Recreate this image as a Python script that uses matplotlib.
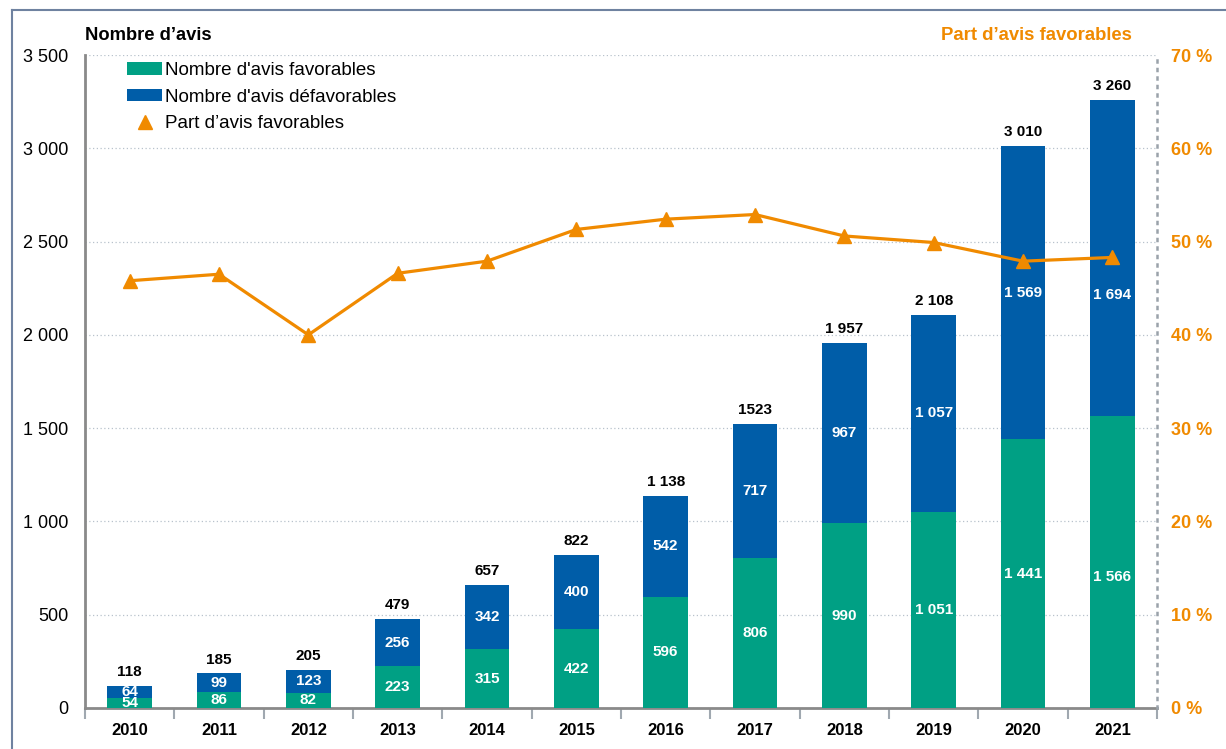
import matplotlib
matplotlib.use("Agg")
import matplotlib.pyplot as plt
from matplotlib.patches import Patch
from matplotlib.lines import Line2D
import numpy as np

plt.rcParams['font.family'] = ['Liberation Sans', 'DejaVu Sans']

years = ["2010", "2011", "2012", "2013", "2014", "2015", "2016", "2017", "2018", "2019", "2020", "2021"]
favorables = [54, 86, 82, 223, 315, 422, 596, 806, 990, 1051, 1441, 1566]
defavorables = [64, 99, 123, 256, 342, 400, 542, 717, 967, 1057, 1569, 1694]
total_labels = ["118", "185", "205", "479", "657", "822", "1 138", "1523", "1 957", "2 108", "3 010", "3 260"]
totals = [118, 185, 205, 479, 657, 822, 1138, 1523, 1957, 2108, 3010, 3260]
part_favorables = [45.8, 46.5, 40.0, 46.6, 47.9, 51.3, 52.4, 52.9, 50.6, 49.9, 47.9, 48.3]
left_ticks = [0, 500, 1000, 1500, 2000, 2500, 3000, 3500]
right_ticks = [0, 10, 20, 30, 40, 50, 60, 70]

GREEN = "#00A084"
BLUE = "#005DA8"
ORANGE = "#F08A00"
GRAY = "#8a8a8a"


def fmt(v):
    return f"{v:,}".replace(",", " ")


fig = plt.figure(figsize=(12.26, 7.49), dpi=100)
ax = fig.add_axes([85 / 1226, 1 - 708 / 749, (1157 - 85) / 1226, (708 - 55) / 749])
x = np.arange(len(years))

ax.bar(x, favorables, width=0.5, color=GREEN, zorder=3)
ax.bar(x, defavorables, width=0.5, bottom=favorables, color=BLUE, zorder=3)

# in the reference the labels of the last bar sit a little lower than the segment middle
shift_fav = {11: -11}
shift_def = {11: -27}
for i in range(len(years)):
    ax.annotate(fmt(favorables[i]), (x[i], favorables[i] / 2),
                xytext=(0, shift_fav.get(i, 0)), textcoords='offset points',
                ha='center', va='center', color='white', fontsize=11,
                fontweight='bold', zorder=4)
    ax.annotate(fmt(defavorables[i]), (x[i], favorables[i] + defavorables[i] / 2),
                xytext=(0, shift_def.get(i, 0)), textcoords='offset points',
                ha='center', va='center', color='white', fontsize=11,
                fontweight='bold', zorder=4)
    ax.annotate(total_labels[i], (x[i], totals[i]), xytext=(0, 5), textcoords='offset points',
                ha='center', va='bottom', fontsize=11, fontweight='bold', color='black')

ax.set_xlim(-0.5, 11.5)
ax.set_ylim(0, 3500)
ax.set_yticks(left_ticks)
ax.set_yticklabels([fmt(v) for v in left_ticks], fontsize=13)
ax.set_xticks(x)
ax.set_xticklabels(years, fontsize=12, fontweight='bold')
ax.set_xticks(np.arange(-0.5, 12, 1), minor=True)
ax.tick_params(axis='x', which='major', length=0, pad=11)
ax.tick_params(axis='x', which='minor', length=8, width=1.5, color="#a0a8b0")
ax.tick_params(axis='y', length=0, pad=12)
ax.grid(axis='y', linestyle=(0, (1, 2)), color="#b8c2cc", linewidth=0.9, zorder=0)
ax.set_axisbelow(True)
for s in ['top', 'right']:
    ax.spines[s].set_visible(False)
ax.spines['left'].set_color(GRAY)
ax.spines['left'].set_linewidth(2)
ax.spines['bottom'].set_color(GRAY)
ax.spines['bottom'].set_linewidth(2)

ax2 = ax.twinx()
ax2.plot(x, part_favorables, color=ORANGE, linewidth=2.3, marker='^', markersize=10, zorder=5)
ax2.set_ylim(0, 70)
ax2.set_yticks(right_ticks)
ax2.set_yticklabels([f"{v} %" for v in right_ticks], fontsize=13, fontweight='bold', color=ORANGE)
ax2.tick_params(axis='y', length=0, pad=10)
for s in ['top', 'left', 'bottom']:
    ax2.spines[s].set_visible(False)
ax2.spines['right'].set_linestyle((0, (0.8, 2.6)))
ax2.spines['right'].set_color("#9aa2aa")
ax2.spines['right'].set_linewidth(1.8)

handles = [
    Patch(facecolor=GREEN, label="Nombre d'avis favorables"),
    Patch(facecolor=BLUE, label="Nombre d'avis défavorables"),
    Line2D([], [], color=ORANGE, marker='^', linestyle='none', markersize=10,
           label="Part d\u2019avis favorables"),
]
ax.legend(handles=handles, loc='upper left', bbox_to_anchor=(42 / 1072, 0.989), frameon=False,
          fontsize=13.5, handlelength=1.87, handleheight=0.64, handletextpad=0.16,
          labelspacing=0.5, borderpad=0, borderaxespad=0)

fig.text(85 / 1226, 1 - 35 / 749, "Nombre d\u2019avis", fontsize=13.2, fontweight='bold',
         ha='left', va='center')
fig.text(1132 / 1226, 1 - 35 / 749, "Part d\u2019avis favorables", fontsize=13.3,
         fontweight='bold', color=ORANGE, ha='right', va='center')

# outer frame
frame_col = "#6f82a0"
fig.add_artist(Line2D([12 / 1226, 1], [1 - 10 / 749, 1 - 10 / 749], color=frame_col,
                      linewidth=1.5, transform=fig.transFigure))
fig.add_artist(Line2D([12 / 1226, 12 / 1226], [0, 1 - 10 / 749], color=frame_col,
                      linewidth=1.5, transform=fig.transFigure))

fig.savefig("out.png", dpi=100)
